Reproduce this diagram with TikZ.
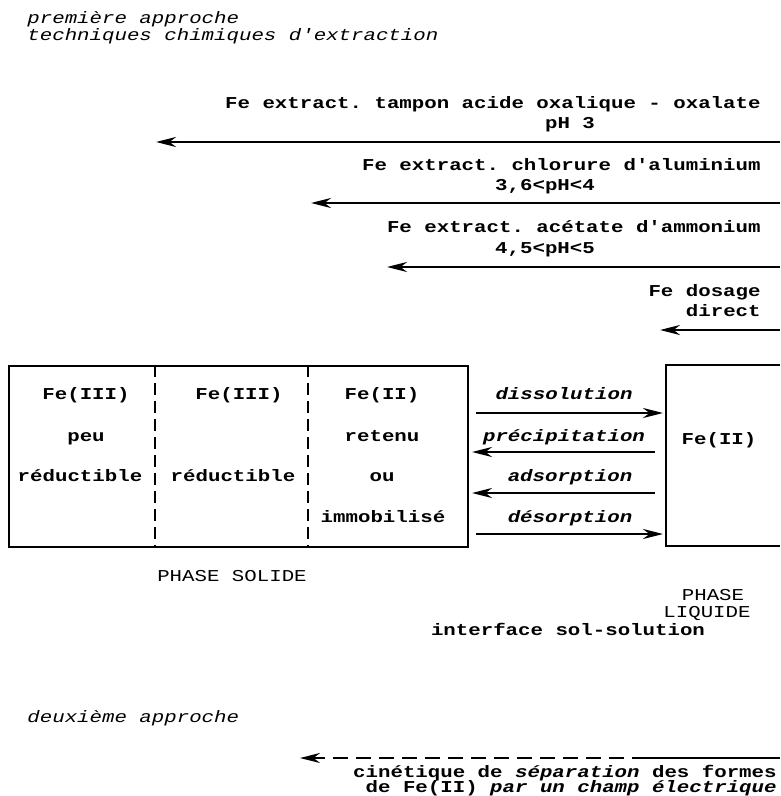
\documentclass[tikz,border=0pt]{standalone}
\usepackage{fontspec}
\setmonofont[FakeStretch=1.25]{Liberation Mono}
\usetikzlibrary{arrows.meta}

\tikzset{
  txt/.style={font=\fontsize{8.3}{10}\selectfont\ttfamily\bfseries, inner sep=0pt, text height=6pt, text depth=1.5pt},
  ntxt/.style={txt, font=\fontsize{8.3}{10}\selectfont\ttfamily},
  itxt/.style={txt, font=\fontsize{8.3}{10}\selectfont\ttfamily\itshape},
  bitxt/.style={txt, font=\fontsize{8.3}{10}\selectfont\ttfamily\bfseries\itshape},
  fleche/.style={-{Stealth[length=10pt,width=5pt]}, line width=1.3pt},
  cadre/.style={line width=1pt},
  sep/.style={line width=0.9pt, dash pattern=on 6pt off 3pt}
}

\begin{document}
\begin{tikzpicture}[x=0.5pt,y=-0.5pt]
\useasboundingbox (0,0) rectangle (780,796);
% titre
\node [itxt, anchor=west] (ap1) at (27,19) {première approche};
\node [itxt, anchor=west] (ap2) at (27,36) {techniques chimiques d'extraction};
% extractions
\node [txt, anchor=east] (ox) at (761,104) {Fe extract. tampon acide oxalique - oxalate};
\node [txt] (ph3) at (570,124) {pH 3};
\coordinate (oxd) at (780,142);
\coordinate (oxg) at (156,142);
\draw [fleche] (oxd) -- (oxg);
\node [txt, anchor=east] (al) at (761,166) {Fe extract. chlorure d'aluminium};
\node [txt] (ph4) at (545,186) {3,6<pH<4};
\coordinate (ald) at (780,203);
\coordinate (alg) at (311,203);
\draw [fleche] (ald) -- (alg);
\node [txt, anchor=east] (am) at (761,228) {Fe extract. acétate d'ammonium};
\node [txt] (ph5) at (545,249) {4,5<pH<5};
\coordinate (amd) at (780,267);
\coordinate (amg) at (387,267);
\draw [fleche] (amd) -- (amg);
\node [txt, anchor=east] (dos) at (761,292) {Fe dosage};
\node [txt, anchor=east] (dir) at (761,312) {direct};
\coordinate (dosd) at (780,330);
\coordinate (dosg) at (660,330);
\draw [fleche] (dosd) -- (dosg);
% phase solide
\node [cadre, draw, minimum width=229.5pt, minimum height=90.5pt, anchor=north west] (sol) at (8,365) {};
\coordinate (s1h) at (155,365);
\coordinate (s1b) at (155,546);
\coordinate (s2h) at (308,365);
\coordinate (s2b) at (308,546);
\draw [sep] (s1h) -- (s1b);
\draw [sep] (s2h) -- (s2b);
\node [txt] (a1) at (86,395) {Fe(III)};
\node [txt] (a2) at (86,437) {peu};
\node [txt] (a3) at (80,477) {réductible};
\node [txt] (b1) at (239,395) {Fe(III)};
\node [txt] (b3) at (233,477) {réductible};
\node [txt] (c1) at (382,395) {Fe(II)};
\node [txt] (c2) at (382,437) {retenu};
\node [txt] (c3) at (382,477) {ou};
\node [txt] (c4) at (383,518) {immobilisé};
% phase liquide
\coordinate (lq1) at (780,365);
\coordinate (lq2) at (666,365);
\coordinate (lq3) at (666,546);
\coordinate (lq4) at (780,546);
\draw [cadre] (lq1) -- (lq2) -- (lq3) -- (lq4);
\node [txt] (liq) at (719,440) {Fe(II)};
% echanges
\node [bitxt] (e1) at (564,395) {dissolution};
\node [bitxt] (e2) at (564,437) {précipitation};
\node [bitxt] (e3) at (570,477) {adsorption};
\node [bitxt] (e4) at (570,518) {désorption};
\coordinate (f1g) at (476,413);
\coordinate (f1d) at (663,413);
\coordinate (f2g) at (472,452);
\coordinate (f2d) at (655,452);
\coordinate (f3g) at (472,493);
\coordinate (f3d) at (655,493);
\coordinate (f4g) at (476,534);
\coordinate (f4d) at (663,534);
\draw [fleche] (f1g) -- (f1d);
\draw [fleche] (f2d) -- (f2g);
\draw [fleche] (f3d) -- (f3g);
\draw [fleche] (f4g) -- (f4d);
% legendes
\node [ntxt] (ps) at (232,577) {PHASE SOLIDE};
\node [ntxt] (pl1) at (713,596) {PHASE};
\node [ntxt] (pl2) at (707,613) {LIQUIDE};
\node [txt] (intf) at (568,631) {interface sol-solution};
% deuxieme approche
\node [itxt, anchor=west] (ap3) at (27,718) {deuxième approche};
\coordinate (chd) at (780,758);
\coordinate (chm) at (647,758);
\coordinate (chg) at (300,758);
\draw [line width=1.1pt] (chd) -- (chm);
\draw [fleche, line width=1.1pt, dash pattern=on 7.5pt off 4pt] (chm) -- (chg);
\node [txt, anchor=east] (ch1) at (777,773) {cinétique de \textit{séparation} des formes};
\node [txt, anchor=east] (ch2) at (777,788) {de Fe(II) \textit{par un champ électrique}};
\end{tikzpicture}
\end{document}
